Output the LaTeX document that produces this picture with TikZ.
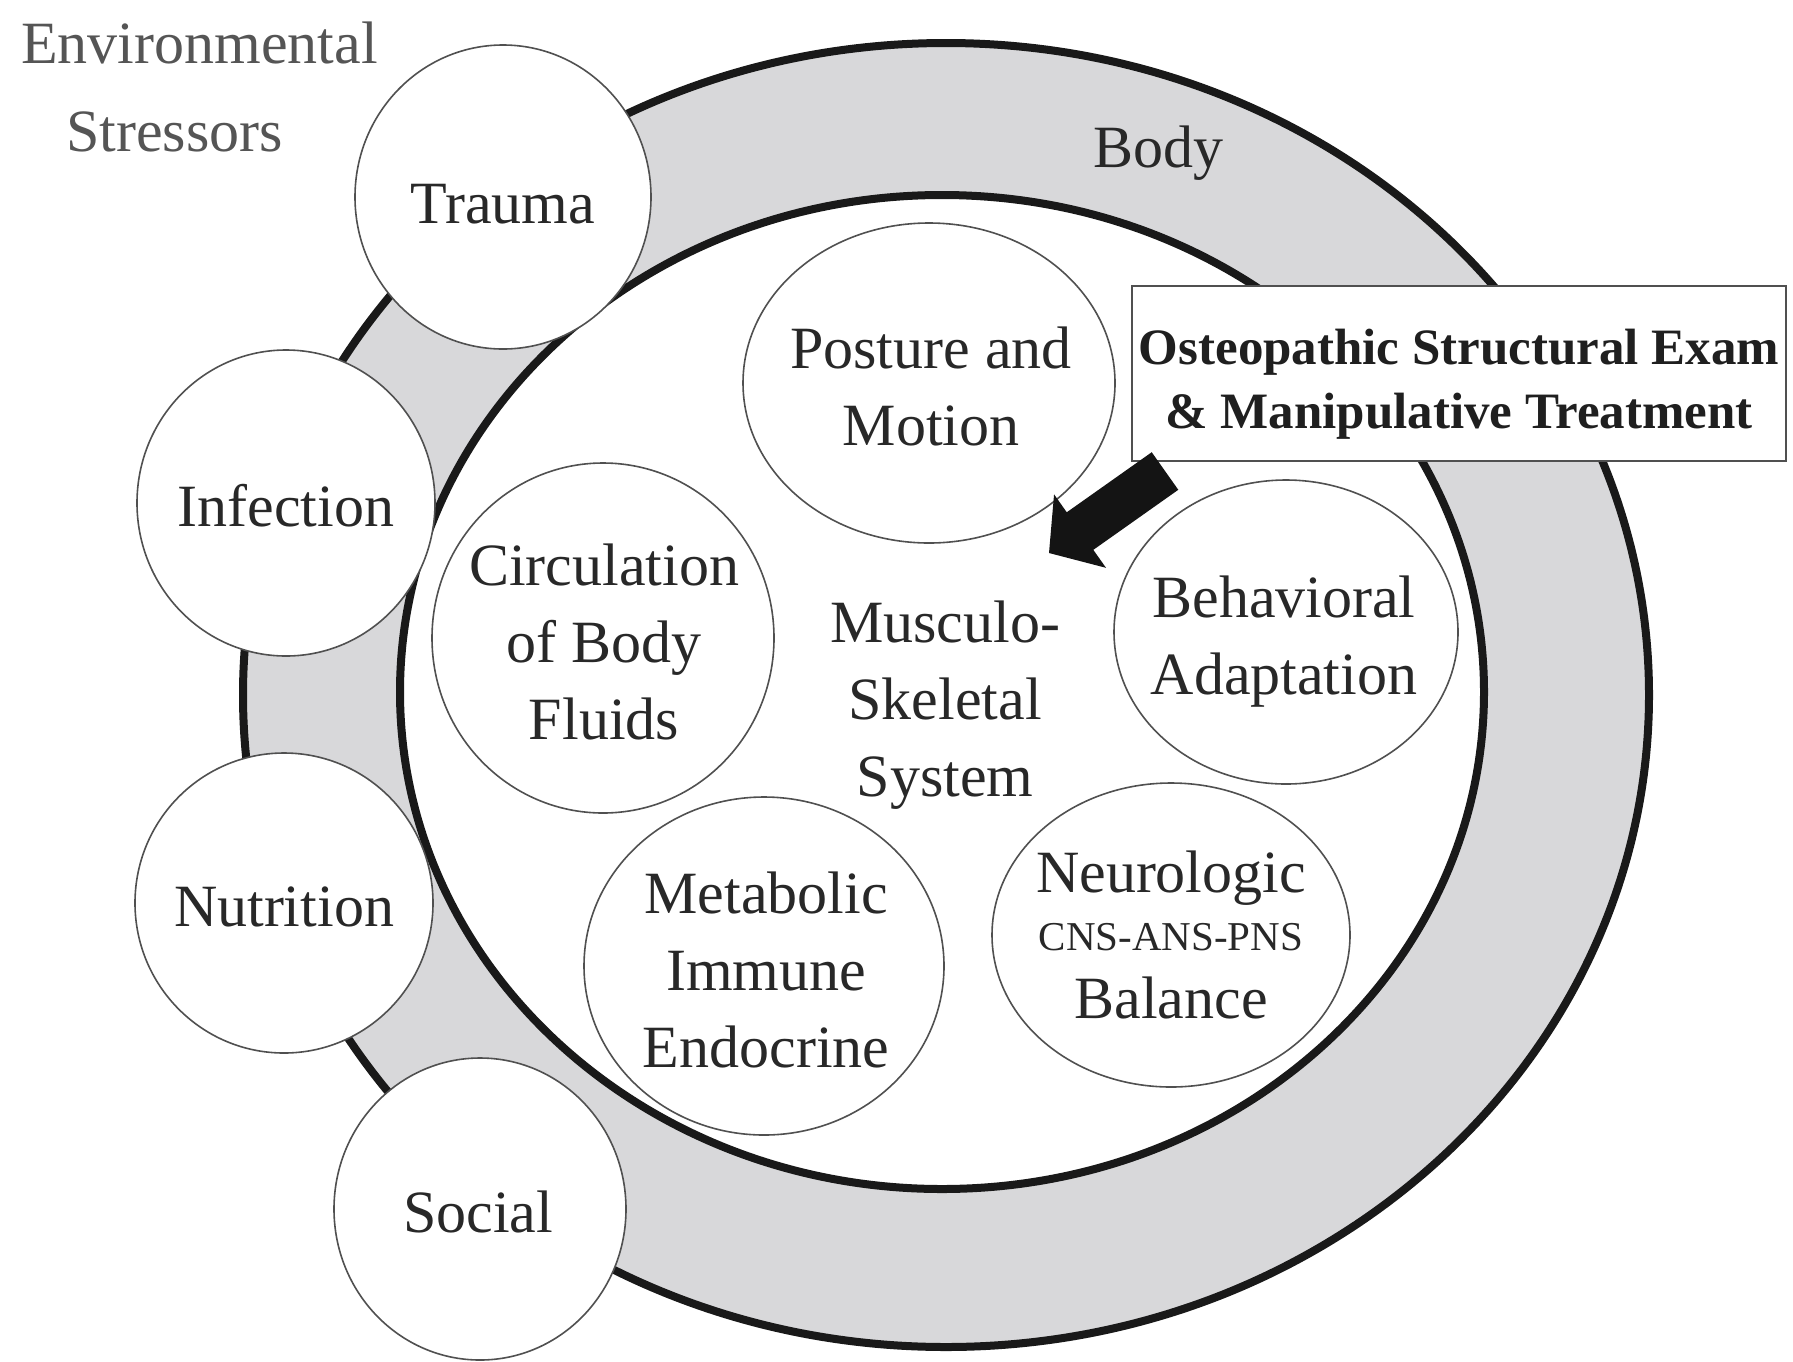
\documentclass[tikz,border=0pt]{standalone}
\usepackage{fontspec}
\setmainfont{Liberation Serif}
\usetikzlibrary{shapes.geometric,calc}
\definecolor{ringgray}{RGB}{216,216,218}
\definecolor{txt}{RGB}{40,40,40}
\definecolor{lighttxt}{RGB}{85,85,85}
\definecolor{thinline}{RGB}{80,80,80}
\begin{document}
\begin{tikzpicture}[x=1pt,y=-1pt,
  ring/.style={ellipse,draw=black!90,line width=8pt,inner sep=0pt,outer sep=0pt},
  bubble/.style={ellipse,draw=thinline,line width=1.6pt,fill=white,inner sep=0pt,outer sep=0pt},
  lbl/.style={text=txt,align=center,font=\fontsize{60}{77}\selectfont,inner sep=0pt},
  boxlbl/.style={text=black!88,align=center,font=\fontsize{51}{64}\selectfont\bfseries,inner sep=0pt}]
\useasboundingbox[fill=white] (0,0) rectangle (1793,1361);
% body rings
\node[ring,fill=ringgray,minimum width=1406pt,minimum height=1304pt] (body) at (946,695) {};
\node[ring,fill=white,minimum width=1084pt,minimum height=994pt] (mss) at (942,692) {};
% environmental stressors
\node[bubble,minimum width=296pt,minimum height=304pt] (trauma) at (503,197) {};
\node[bubble,minimum width=298pt,minimum height=306pt] (infection) at (286,503) {};
\node[bubble,minimum width=298pt,minimum height=300pt] (nutrition) at (284,903) {};
\node[bubble,minimum width=292pt,minimum height=302pt] (social) at (480,1209) {};
% inner systems
\node[bubble,minimum width=372pt,minimum height=320pt] (posture) at (929,383) {};
\node[bubble,minimum width=342pt,minimum height=350pt] (circ) at (603,638) {};
\node[bubble,minimum width=344pt,minimum height=304pt] (behav) at (1286,632) {};
\node[bubble,minimum width=360pt,minimum height=338pt] (metab) at (764,966) {};
\node[bubble,minimum width=358pt,minimum height=304pt] (neuro) at (1171,935) {};
% box
\node[draw=thinline,line width=1.6pt,fill=white,minimum width=654pt,minimum height=175pt,inner sep=0pt] (ostbox) at (1459,373.5) {};
\node[boxlbl] (osttext) at (1459,384) {Osteopathic Structural Exam\\\& Manipulative Treatment};
% arrow
\coordinate (arrtail) at (1165,471);
\coordinate (arrtip) at (1049,553);
\coordinate (arrbase) at ($(arrtip)!38pt!(arrtail)$);
\fill[black!92] ($(arrtail)!23pt!90:(arrtip)$) -- ($(arrbase)!23pt!-90:(arrtail)$) -- ($(arrbase)!45pt!-90:(arrtail)$) -- (arrtip) -- ($(arrbase)!45pt!90:(arrtail)$) -- ($(arrbase)!23pt!90:(arrtail)$) -- ($(arrtail)!23pt!-90:(arrtip)$) -- cycle;
% labels
\node[lbl,text=lighttxt,align=left,anchor=west,font=\fontsize{60}{88}\selectfont] (envlbl) at (21,86.5) {Environmental\\\hspace*{45pt}Stressors};
\node[lbl] (bodylbl) at (1158,153) {Body};
\node[lbl] (traumalbl) at (trauma.center) [yshift=-7pt] {Trauma};
\node[lbl] (infectionlbl) at (286,505.5) {Infection};
\node[lbl] (nutritionlbl) at (284,906.5) {Nutrition};
\node[lbl] (sociallbl) at (478,1211.5) {Social};
\node[lbl] (posturelbl) at (931,386) {Posture and\\Motion};
\node[lbl] (circlbl) at (604,641.5) {Circulation\\of Body\\Fluids};
\node[lbl] (behavlbl) at (1284,641.5) {Behavioral\\Adaptation};
\node[lbl] (metablbl) at (766,969.5) {Metabolic\\Immune\\Endocrine};
\node[lbl] (neurolbl) at (1171,934.5) {Neurologic\\[-19pt]{\fontsize{41}{41}\selectfont CNS-ANS-PNS}\\[-9pt]Balance};
\node[lbl] (msslbl) at (945,705) {Musculo-\\Skeletal\\System};
\end{tikzpicture}
\end{document}
